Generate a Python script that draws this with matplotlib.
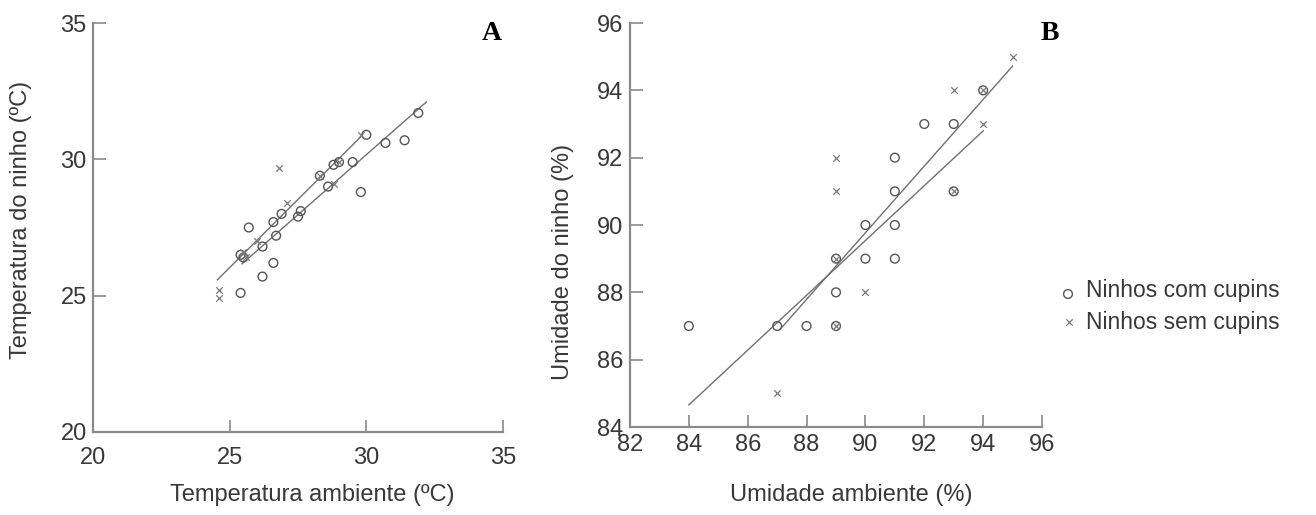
import matplotlib
matplotlib.use("Agg")
import matplotlib.pyplot as plt
import numpy as np

plt.rcParams['font.family'] = ['Liberation Sans', 'DejaVu Sans']

# painel A - temperatura
a_com_x = [31.9, 31.4, 30.7, 30.0, 29.5, 29.0, 28.8, 28.3, 29.8, 28.6, 27.6, 27.5,
           26.9, 26.6, 26.7, 25.7, 26.2, 25.4, 26.6, 26.2, 25.4, 25.5]
a_com_y = [31.7, 30.7, 30.6, 30.9, 29.9, 29.9, 29.8, 29.4, 28.8, 29.0, 28.1, 27.9,
           28.0, 27.7, 27.2, 27.5, 26.8, 26.5, 26.2, 25.7, 25.1, 26.4]
a_sem_x = [24.6, 24.6, 26.8, 27.1, 26.0, 25.5, 29.8, 28.8, 29.0, 28.3, 25.6]
a_sem_y = [25.2, 24.9, 29.7, 28.4, 27.0, 26.6, 30.9, 29.1, 29.9, 29.4, 26.4]
# retas (inclinacao, intercepto, x inicial, x final)
a_fit_sem = (1.00, 1.03, 24.55, 29.8)
a_fit_com = (0.88, 3.77, 25.45, 32.2)

# painel B - umidade
b_com_x = [84, 87, 88, 89, 89, 89, 90, 90, 91, 91, 91, 91, 92, 93, 93, 94]
b_com_y = [87, 87, 87, 87, 88, 89, 90, 89, 92, 91, 90, 89, 93, 93, 91, 94]
b_sem_x = [95, 93, 94, 89, 89, 90, 87, 89, 89, 93, 94]
b_sem_y = [95, 94, 93, 92, 91, 88, 85, 87, 89, 91, 94]
b_fit_com = (0.814, 16.28, 84.0, 94.0)
b_fit_sem = (0.99, 0.67, 87.1, 95.0)

W, H = 1316, 515
fig = plt.figure(figsize=(W / 100, H / 100), dpi=100)

def px(x0, y0, x1, y1):
    return [x0 / W, 1 - y1 / H, (x1 - x0) / W, (y1 - y0) / H]

axA = fig.add_axes(px(93, 23, 503, 432))
axB = fig.add_axes(px(630, 23, 1042, 427))

dark = '#383838'
spine_c = '#8a8a8a'

def style(ax, xlim, ylim, ticks_x, ticks_y, xpad, ypad):
    ax.set_xlim(*xlim)
    ax.set_ylim(*ylim)
    ax.set_xticks(ticks_x)
    ax.set_yticks(ticks_y)
    for s in ['top', 'right']:
        ax.spines[s].set_visible(False)
    for s in ['left', 'bottom']:
        ax.spines[s].set_color(spine_c)
        ax.spines[s].set_linewidth(1.6)
    ax.tick_params(axis='both', direction='in', length=9, width=1.2,
                   color=spine_c, labelsize=17, labelcolor=dark)
    ax.tick_params(axis='x', pad=xpad)
    ax.tick_params(axis='y', pad=ypad)
    ax.patch.set_alpha(0)

def draw(ax, cx, cy, sx, sy, fits):
    for m, b, x0, x1 in fits:
        xs = np.array([x0, x1])
        ax.plot(xs, m * xs + b, color='#707070', lw=1.0, zorder=2)
    ax.scatter(cx, cy, s=40, facecolors='none', edgecolors='#555555',
               linewidths=1.0, zorder=3, clip_on=False)
    ax.scatter(sx, sy, s=22, marker='x', color='#7a7a7a',
               linewidths=0.9, zorder=3, clip_on=False)

draw(axA, a_com_x, a_com_y, a_sem_x, a_sem_y, [a_fit_sem, a_fit_com])
style(axA, (20, 35), (20, 35), [20, 25, 30, 35], [20, 25, 30, 35], 11, 4.5)

draw(axB, b_com_x, b_com_y, b_sem_x, b_sem_y, [b_fit_com, b_fit_sem])
style(axB, (82, 96), (84, 96), range(82, 97, 2), range(84, 97, 2), 5, 5)

lab = dict(ha='center', va='center', fontsize=17, color=dark)
fig.text(312 / W, 1 - 495 / H, 'Temperatura ambiente (ºC)', **lab)
fig.text(21 / W, 1 - 220 / H, 'Temperatura do ninho (ºC)', rotation=90, **lab)
fig.text(851 / W, 1 - 495 / H, 'Umidade ambiente (%)', **lab)
fig.text(563 / W, 1 - 262 / H, 'Umidade do ninho (%)', rotation=90, **lab)

serif = ['Liberation Serif', 'DejaVu Serif']
fig.text(492 / W, 1 - 34 / H, 'A', ha='center', va='center', fontsize=20,
         fontweight='bold', family=serif, color='black')
fig.text(1050 / W, 1 - 34 / H, 'B', ha='center', va='center', fontsize=20,
         fontweight='bold', family=serif, color='black')

# legenda
fig.text(1086 / W, 1 - 290 / H, 'Ninhos com cupins', ha='left', va='center',
         fontsize=16.5, color=dark)
fig.text(1086 / W, 1 - 322 / H, 'Ninhos sem cupins', ha='left', va='center',
         fontsize=16.5, color=dark)
lg = fig.add_axes([0, 0, 1, 1])
lg.set_xlim(0, W)
lg.set_ylim(H, 0)
lg.axis('off')
lg.scatter([1068], [294], s=40, facecolors='none', edgecolors='#555555', linewidths=1.0)
lg.scatter([1069], [322], s=22, marker='x', color='#7a7a7a', linewidths=0.9)

fig.savefig('out.png', dpi=100)
